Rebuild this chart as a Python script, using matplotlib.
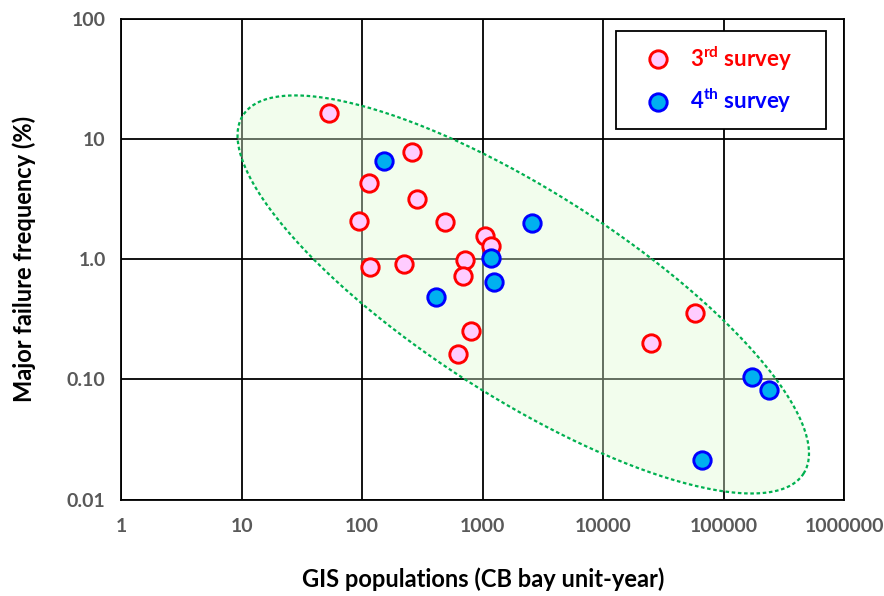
import numpy as np
import matplotlib
matplotlib.use('Agg')
import matplotlib.pyplot as plt
from matplotlib.lines import Line2D
from matplotlib.ticker import FixedLocator, FixedFormatter

plt.rcParams['font.family'] = ['Lato', 'DejaVu Sans']
plt.rcParams['mathtext.fontset'] = 'custom'
plt.rcParams['mathtext.rm'] = 'Lato'
plt.rcParams['mathtext.bf'] = 'Lato:bold'

# 3rd survey
x3 = [53.4, 257, 114.5, 285, 94.6, 489, 1043, 1177, 712, 681, 116, 221, 794, 622, 24800, 57200]
y3 = [16.6, 7.8, 4.3, 3.17, 2.10, 2.04, 1.55, 1.29, 0.99, 0.73, 0.86, 0.91, 0.253, 0.162, 0.202, 0.358]

# 4th survey
x4 = [152, 1164, 2574, 1245, 407, 171700, 237600, 66100]
y4 = [6.56, 1.03, 2.02, 0.645, 0.489, 0.105, 0.0818, 0.0214]

x_ticks = [1, 10, 100, 1000, 10000, 100000, 1000000]
x_tick_labels = ['1', '10', '100', '1000', '10000', '100000', '1000000']
y_ticks = [0.01, 0.1, 1, 10, 100]
y_tick_labels = ['0.01', '0.10', '1.0', '10', '100']

# ellipse in log10 space: centre, semi-axes (decades), angle (deg)
ell_center = (3.336, -0.293)
ell_a, ell_b, ell_angle = 2.762, 0.856, -32.7

fig = plt.figure(figsize=(8.84, 5.96), dpi=100)
ax = fig.add_axes([0.1369, 0.1619, 0.8184, 0.8062])
ax.set_xscale('log')
ax.set_yscale('log')
ax.set_xlim(1, 1e6)
ax.set_ylim(0.01, 100)

ax.xaxis.set_major_locator(FixedLocator(x_ticks))
ax.xaxis.set_major_formatter(FixedFormatter(x_tick_labels))
ax.yaxis.set_major_locator(FixedLocator(y_ticks))
ax.yaxis.set_major_formatter(FixedFormatter(y_tick_labels))
ax.minorticks_off()
ax.tick_params(length=0, labelsize=14, labelcolor='#595959')
ax.tick_params(axis='x', pad=13)
ax.tick_params(axis='y', pad=11)
for lab in ax.get_xticklabels() + ax.get_yticklabels():
    lab.set_fontweight('bold')

ax.grid(True, color='black', linewidth=1.3)
ax.set_axisbelow(True)
for sp in ax.spines.values():
    sp.set_color('black')
    sp.set_linewidth(1.3)

# dotted ellipse
t = np.linspace(0, 2 * np.pi, 400)
th = np.radians(ell_angle)
ex = ell_center[0] + ell_a * np.cos(t) * np.cos(th) - ell_b * np.sin(t) * np.sin(th)
ey = ell_center[1] + ell_a * np.cos(t) * np.sin(th) + ell_b * np.sin(t) * np.cos(th)
ax.fill(10 ** ex, 10 ** ey, facecolor='#E0FAD4', alpha=0.4, edgecolor='none', zorder=1)
ax.plot(10 ** ex, 10 ** ey, color='#00B050', linewidth=1.6, linestyle=(0, (1.6, 1.2)), zorder=1.5)

ax.plot(x3, y3, 'o', ms=12.5, mfc='#FFCCFF', mec='#FF0000', mew=2.1, zorder=3)
ax.plot(x4, y4, 'o', ms=12.5, mfc='#00B0F0', mec='#0000FF', mew=2.1, zorder=3)

ax.set_xlabel('GIS populations (CB bay unit-year)', fontsize=17, fontweight='bold', labelpad=24)
ax.set_ylabel('Major failure frequency (%)', fontsize=17, fontweight='bold', labelpad=22)

handles = [
    Line2D([], [], marker='o', ls='none', ms=12.5, mfc='#FFCCFF', mec='#FF0000', mew=2.1),
    Line2D([], [], marker='o', ls='none', ms=12.5, mfc='#00B0F0', mec='#0000FF', mew=2.1),
]
labels = [r'3$^{\mathbf{rd}}$ survey', r'4$^{\mathbf{th}}$ survey']
leg = ax.legend(handles, labels, loc='upper left', bbox_to_anchor=(0.684, 0.975, 0.290, 0.0),
                mode='expand', borderaxespad=0, frameon=True, fancybox=False,
                prop={'weight': 'bold', 'size': 16},
                borderpad=0.6, labelspacing=0.65, handletextpad=0.15, handlelength=2.6)
leg.get_frame().set_edgecolor('black')
leg.get_frame().set_linewidth(1.3)
leg.get_frame().set_alpha(1)
leg.set_zorder(5)
for txt, c in zip(leg.get_texts(), ['#FF0000', '#0000FF']):
    txt.set_color(c)

fig.savefig('out.png', dpi=100)
